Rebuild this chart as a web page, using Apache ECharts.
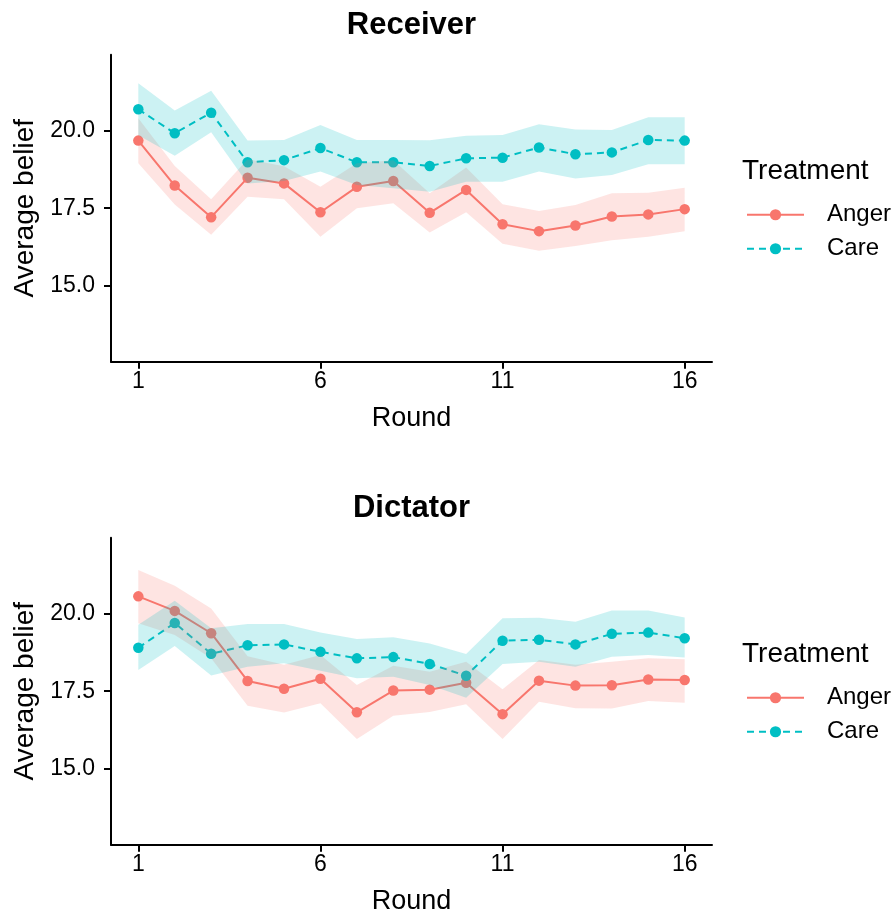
<!DOCTYPE html>
<html>
<head>
<meta charset="utf-8">
<script src="https://cdn.jsdelivr.net/npm/echarts@6/dist/echarts.min.js"></script>
<style>html,body{margin:0;padding:0;background:#fff}#c{width:896px;height:917px}</style>
</head>
<body>
<div id="c"></div>
<script>
// ---- data ----
const rounds = [1,2,3,4,5,6,7,8,9,10,11,12,13,14,15,16];
const xTicks = [1,6,11,16];
const yTicks = [15,17.5,20];
const panelTitles = ['Receiver','Dictator'];
const groups = ['Anger','Care'];
const legendTitle = 'Treatment';
const xName = 'Round';
const yName = 'Average belief';

const recvAnger   = [19.68,18.23,17.21,18.48,18.30,17.37,18.19,18.38,17.35,18.09,16.98,16.76,16.94,17.23,17.30,17.47];
const recvAngerLo = [18.95,17.62,16.64,17.87,17.79,16.58,17.50,17.66,16.72,17.37,16.35,16.13,16.28,16.47,16.58,16.76];
const recvAngerHi = [20.40,18.86,17.79,19.08,18.85,18.19,18.95,19.05,17.98,18.81,17.63,17.41,17.60,17.98,18.00,18.16];
const recvCare    = [20.69,19.92,20.58,18.98,19.05,19.44,18.98,18.98,18.86,19.11,19.13,19.46,19.24,19.30,19.70,19.68];
const recvCareLo  = [19.85,19.19,19.95,18.30,18.38,18.68,18.25,18.14,18.03,18.35,18.35,18.68,18.46,18.57,18.92,18.92];
const recvCareHi  = [21.53,20.65,21.29,19.68,19.70,20.18,19.70,19.70,19.69,19.84,19.86,20.21,20.04,20.02,20.43,20.43];

const dictAnger   = [20.56,20.09,19.37,17.83,17.58,17.90,16.82,17.52,17.55,17.77,16.76,17.84,17.68,17.69,17.88,17.86];
const dictAngerLo = [19.69,19.31,18.56,17.03,16.81,17.11,15.96,16.71,16.83,17.08,15.96,17.16,16.95,16.94,17.18,17.13];
const dictAngerHi = [21.41,20.90,20.17,18.63,18.35,18.67,17.70,18.32,18.13,18.45,17.56,18.51,18.35,18.45,18.56,18.53];
const dictCare    = [18.90,19.70,18.71,18.98,19.01,18.77,18.56,18.60,18.38,18.00,19.13,19.16,19.01,19.35,19.39,19.21];
const dictCareLo  = [18.18,18.96,18.01,18.29,18.40,18.16,17.92,17.97,17.70,17.29,18.38,18.45,18.29,18.61,18.67,18.59];
const dictCareHi  = [19.64,20.42,19.53,19.67,19.67,19.39,19.18,19.24,19.04,18.70,19.85,19.87,19.74,20.10,20.10,19.88];

// ---- style ----
const FONT = '"Liberation Sans", Arial, sans-serif';
const COLORS = {Anger:'#F8766D', Care:'#00BFC4'};
const FILLS = {Anger:'rgba(248,118,109,0.2)', Care:'rgba(0,191,196,0.2)'};
const panelTop = [54.75, 537.75];
const panelH = 306.9;

const panels = [
  {Anger:[recvAnger,recvAngerLo,recvAngerHi], Care:[recvCare,recvCareLo,recvCareHi]},
  {Anger:[dictAnger,dictAngerLo,dictAngerHi], Care:[dictCare,dictCareLo,dictCareHi]}
];

function ribbonRender(fill){
  return function(params, api){
    if (params.dataIndexInside !== 0) return null;
    const n = params.dataInsideLength;
    const up = [], lo = [];
    for (let i = 0; i < n; i++) {
      up.push(api.coord([api.value(0,i), api.value(2,i)]));
      lo.push(api.coord([api.value(0,i), api.value(1,i)]));
    }
    return {type:'polygon', shape:{points: up.concat(lo.reverse())}, style:{fill: fill}, silent:true};
  };
}

const grid = [], xAxis = [], yAxis = [], series = [], legend = [], title = [];
panels.forEach((p, k) => {
  grid.push({left:111, right:184, top:panelTop[k], height:panelH});
  xAxis.push({
    type:'value', gridIndex:k, min:0.25, max:16.75,
    name:xName, nameLocation:'middle', nameGap:43,
    nameTextStyle:{fontFamily:FONT, fontSize:27, color:'#000'},
    axisLine:{show:true, lineStyle:{color:'#000', width:2}},
    axisTick:{show:true, length:7, lineStyle:{color:'#000', width:2}, customValues:xTicks},
    axisLabel:{fontFamily:FONT, fontSize:23, color:'#000', margin:9, customValues:xTicks},
    splitLine:{show:false}
  });
  yAxis.push({
    type:'value', gridIndex:k, min:12.55, max:22.45,
    name:yName, nameLocation:'middle', nameGap:70, nameRotate:90,
    nameTextStyle:{fontFamily:FONT, fontSize:28, color:'#000'},
    axisLine:{show:true, lineStyle:{color:'#000', width:2}},
    axisTick:{show:true, length:7, lineStyle:{color:'#000', width:2}, customValues:yTicks},
    axisLabel:{fontFamily:FONT, fontSize:23, color:'#000', margin:16, customValues:yTicks,
      formatter: v => Number(v).toFixed(1)},
    splitLine:{show:false}
  });
  groups.forEach(g => {
    const [mid] = p[g];
    series.push({
      type:'line', name:g, xAxisIndex:k, yAxisIndex:k, z:2,
      data: rounds.map((r,i) => [r, mid[i]]),
      symbol:'circle', symbolSize:10.5, showSymbol:true,
      lineStyle:{color:COLORS[g], width:2, type: g==='Care' ? [7,5] : 'solid'},
      itemStyle:{color:COLORS[g]},
      emphasis:{disabled:true}, animation:false
    });
  });
  groups.forEach(g => {
    const [, lo, hi] = p[g];
    series.push({
      type:'custom', name:g, xAxisIndex:k, yAxisIndex:k, z:5,
      data: rounds.map((r,i) => [r, lo[i], hi[i]]),
      encode:{x:0, y:[1,2]},
      renderItem: ribbonRender(FILLS[g]),
      animation:false, silent:true
    });
  });
  title.push({
    text: panelTitles[k], left: 411.5, textAlign:'center', top: panelTop[k] - 45, padding:0,
    textStyle:{fontFamily:FONT, fontSize:31, fontWeight:'bold', color:'#000'}
  });
  title.push({
    text: legendTitle, left: 742, top: panelTop[k] + 103, padding:0,
    textStyle:{fontFamily:FONT, fontSize:28, fontWeight:'normal', color:'#000'}
  });
  legend.push({
    data: groups, orient:'vertical', left:746, top: panelTop[k] + 148, padding:0,
    itemWidth:57, itemHeight:14, itemGap:10,
    textStyle:{fontFamily:FONT, fontSize:24, color:'#000', padding:[0,0,0,18]},
    selectedMode:false
  });
});

const chart = echarts.init(document.getElementById('c'), null, {renderer:'canvas'});
chart.setOption({animation:false, backgroundColor:'#fff', grid, xAxis, yAxis, series, legend, title});
</script>
</body>
</html>
